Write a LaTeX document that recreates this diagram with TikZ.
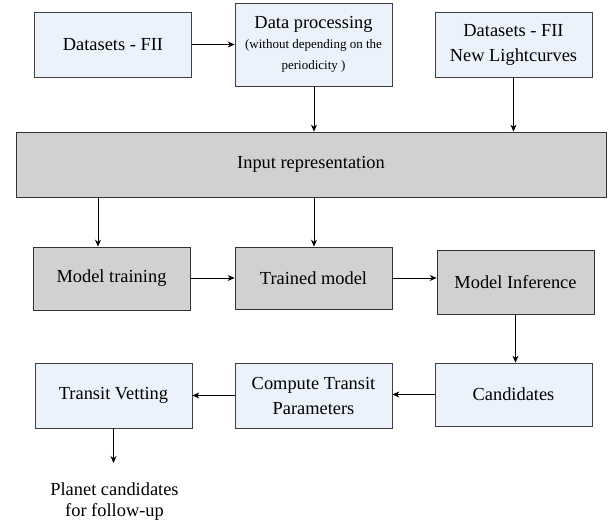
\documentclass[tikz,border=0pt]{standalone}
\usepackage{fontspec}
\setmainfont{Liberation Serif}
\newfontfamily\boxfont{Liberation Serif}
\usetikzlibrary{arrows.meta}
\definecolor{boxBlue}{HTML}{ECF2FC}
\definecolor{boxGray}{HTML}{D1D1D1}
\begin{document}
\begin{tikzpicture}[x=1pt,y=-1pt,>={Stealth[length=7pt,width=6pt]},line width=0.8pt]
\tikzstyle{data}=[rectangle,draw=black!75,fill=boxBlue,minimum width=157pt,minimum height=65pt,inner sep=0pt,align=center,font=\boxfont\fontsize{18.4}{25}\selectfont]
\tikzstyle{model}=[rectangle,draw=black!80,fill=boxGray,minimum width=157pt,minimum height=63pt,inner sep=0pt,align=center,font=\boxfont\fontsize{18.4}{25}\selectfont]

\useasboundingbox (0,0) rectangle (612,521);

\node[data] (dataFII) at (113,44.5) {Datasets - FII};
\node[data,minimum height=83pt] (dataProc) at (313.5,44.5) {\rule{0pt}{6pt}Data processing\\[-5pt]{\fontsize{13}{21}\selectfont (without depending on the}\\[-4pt]{\fontsize{13}{21}\selectfont periodicity )}};
\node[data] (dataNew) at (513.5,44.5) {Datasets - FII\\New Lightcurves};
\draw[->] (dataFII) -- (dataProc);

\node[model,minimum width=590pt,minimum height=65pt] (inputRep) at (311,164.5) {Input representation};
\draw[->] ([xshift=0.5pt]dataProc.south) -- ([xshift=0.5pt]dataProc.south |- inputRep.north);
\draw[->] (dataNew.south) -- (dataNew.south |- inputRep.north);

\node[model] (modelTrain) at (111.5,278.5) {Model training};
\node[model,minimum height=62pt] (trainedModel) at (313.5,278) {Trained model};
\node[model,minimum height=64pt] (modelInf) at (515.5,282) {Model Inference};

\draw[->] ([xshift=-13.5pt]modelTrain.north |- inputRep.south) -- ([xshift=-13.5pt]modelTrain.north);
\draw[->] ([xshift=0.5pt]trainedModel.north |- inputRep.south) -- ([xshift=0.5pt]trainedModel.north);
\draw[->] (modelTrain.east |- trainedModel.west) -- (trainedModel.west);
\draw[->] (trainedModel.east) -- (trainedModel.east -| modelInf.west);

\node[data] (transitVet) at (113.5,395.5) {Transit Vetting};
\node[data] (computeTP) at (313.5,395.5) {Compute Transit\\Parameters};
\node[data,minimum height=63pt] (cand) at (513.5,394.5) {Candidates};

\draw[->] (modelInf.south) -- (modelInf.south |- cand.north);
\draw[->] (cand.west) -- (cand.west -| computeTP.east);
\draw[->] (computeTP.west) -- (transitVet.east);

%final output below the vetting step
\node[align=center,inner sep=0pt,font=\boxfont\fontsize{18.4}{21}\selectfont] (planetCand) at (114.5,502) {Planet candidates\\for follow-up};
\draw[->] (transitVet.south) -- (transitVet.south |- 0,463);

\end{tikzpicture}
\end{document}
